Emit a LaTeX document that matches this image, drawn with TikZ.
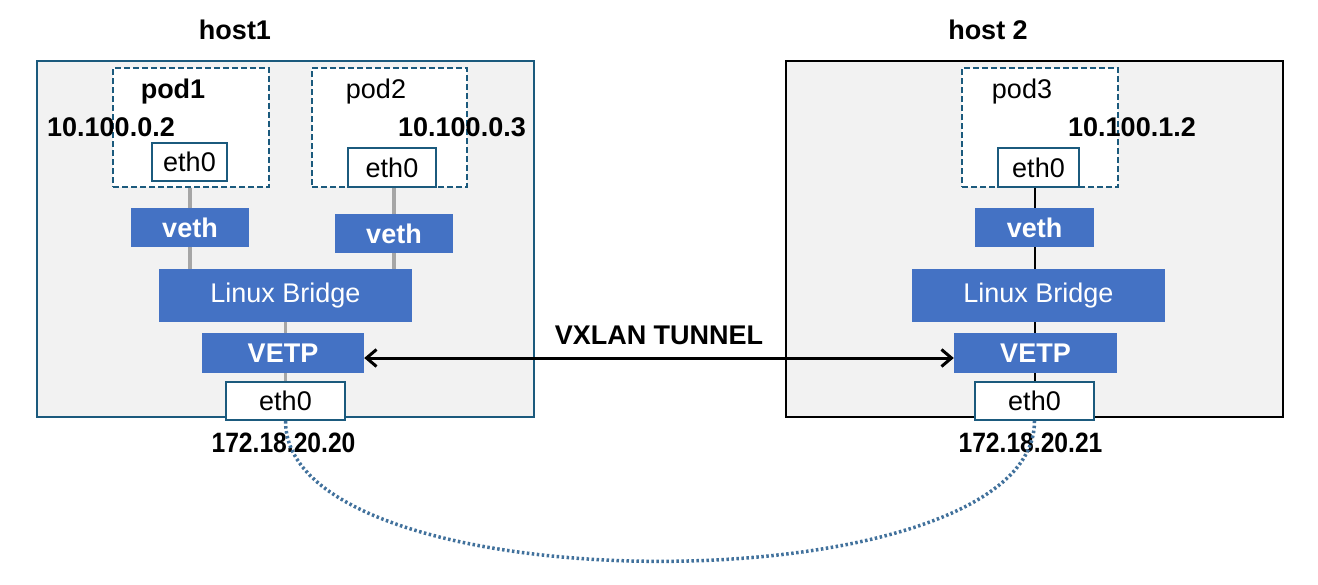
\documentclass[tikz,border=0pt]{standalone}
\usepackage{fontspec}
\setmainfont{Liberation Sans}
\usetikzlibrary{arrows.meta, positioning}
\definecolor{hostteal}{HTML}{1B5A7D}
\definecolor{hostgray}{HTML}{F2F2F2}
\definecolor{ifblue}{HTML}{4472C4}
\definecolor{linkgray}{HTML}{A6A6A6}
\definecolor{tunnelblue}{HTML}{41719C}

\begin{document}
\begin{tikzpicture}[
  x=1pt, y=-1pt,
  font=\fontsize{27}{30}\selectfont,
  >={Straight Barb[length=10pt,width=17pt]},
  % Host frames
  hostbox/.style={
    rectangle, draw, line width=2pt, fill=hostgray,
    minimum width=497pt, minimum height=356pt, inner sep=0pt
  },
  % Pod frames (dashed)
  podbox/.style={
    rectangle, draw=hostteal, line width=1.8pt, dash pattern=on 6pt off 3pt,
    fill=white, minimum width=156pt, minimum height=119pt, inner sep=0pt
  },
  % Interfaces
  ethbox/.style={
    rectangle, draw=hostteal, line width=2.2pt, fill=white,
    minimum height=38pt, inner sep=0pt
  },
  ifbox/.style={
    rectangle, fill=ifblue, text=white,
    minimum height=39pt, inner sep=0pt
  },
  boldif/.style={ifbox, font=\fontsize{27}{30}\selectfont\bfseries},
  % Labels
  boldlabel/.style={font=\fontsize{27}{30}\selectfont\bfseries, inner sep=0pt},
  plainlabel/.style={inner sep=0pt},
  iplabel/.style={font=\fontsize{28}{30}\selectfont\bfseries, inner sep=0pt},
  % Connectors
  graylink/.style={line width=3.5pt, color=linkgray},
  blacklink/.style={line width=2pt, color=black},
  tunnel/.style={<->, line width=3pt, color=black},
  underlay/.style={line width=3.5pt, color=tunnelblue, dash pattern=on 2.5pt off 2.5pt}
]
\useasboundingbox (0,0) rectangle (1318,584);

% === HOSTS ===
\node[hostbox, draw=hostteal] (host1) at (285.5,239) {};
\node[hostbox, draw=black] (host2) at (1034.5,239) {};
\node[boldlabel] (host1lbl) at (235,30) {host1};
\node[boldlabel] (host2lbl) at (988,30) {host 2};

% === PODS ===
\node[podbox] (pod1) at (191,127.5) {};
\node[podbox, minimum width=155pt] (pod2) at (389.5,127.5) {};
\node[podbox] (pod3) at (1040,127.5) {};
\node[boldlabel] (pod1lbl) at (173,92) {pod1};
\node[plainlabel] (pod2lbl) at (376,92) {pod2};
\node[plainlabel] (pod3lbl) at (1022,92) {pod3};
\node[boldlabel] (ip1) at (111,127) {10.100.0.2};
\node[boldlabel] (ip2) at (462,127) {10.100.0.3};
\node[boldlabel] (ip3) at (1132,127) {10.100.1.2};

\node[ethbox, minimum width=75pt] (pod1eth) at (189.5,162) {eth0};
\node[ethbox, minimum width=88pt, minimum height=39pt] (pod2eth) at (392,167.5) {eth0};
\node[ethbox, minimum width=81pt, minimum height=39pt] (pod3eth) at (1038.5,167.5) {eth0};

% === HOST 1 STACK ===
\node[boldif, minimum width=118pt] (veth1) at (190,227.5) {veth};
\node[boldif, minimum width=118pt] (veth2) at (394,233.5) {veth};
\node[ifbox, minimum width=253pt, minimum height=53pt] (bridge1) at (285.5,295.5) {Linux Bridge};
\node[boldif, minimum width=162pt, minimum height=40pt] (vetp1) at (283,353) {VETP};
\node[ethbox, minimum width=119pt] (eth1) at (285.5,401) {eth0};

% === HOST 2 STACK ===
\node[boldif, minimum width=119pt] (veth3) at (1034.5,227.5) {veth};
\node[ifbox, minimum width=253pt, minimum height=53pt] (bridge2) at (1038.5,295.5) {Linux Bridge};
\node[boldif, minimum width=163pt, minimum height=40pt] (vetp2) at (1035.5,353) {VETP};
\node[ethbox, minimum width=119pt] (eth2) at (1034.5,401) {eth0};

\node[iplabel, below=12pt of eth1, xshift=-2pt] (hostip1) {\scalebox{0.88}[1]{172.18.20.20}};
\node[iplabel, below=12pt of eth2, xshift=-4pt] (hostip2) {\scalebox{0.88}[1]{172.18.20.21}};

% === INTERNAL LINKS ===
\draw[graylink] (veth1.north) -- (veth1.north |- pod1.south);
\draw[graylink] (veth1.south) -- (veth1.south |- bridge1.north);
\draw[graylink] (veth2.north) -- (veth2.north |- pod2.south);
\draw[graylink] (veth2.south) -- (veth2.south |- bridge1.north);
\draw[graylink] (eth1.north |- bridge1.south) -- (eth1.north |- vetp1.north);
\draw[graylink] (eth1.north |- vetp1.south) -- (eth1.north);

\draw[blacklink] (veth3.north) -- (veth3.north |- pod3.south);
\draw[blacklink] (veth3.south) -- (veth3.south |- bridge2.north);
\draw[blacklink] (veth3.south |- bridge2.south) -- (veth3.south |- vetp2.north);
\draw[blacklink] (veth3.south |- vetp2.south) -- (eth2.north);

% === TUNNEL ===
\draw[tunnel] ([yshift=-5pt]vetp1.east) -- node[boldlabel, above=12pt] (vxlan) {VXLAN TUNNEL} ([yshift=-5pt]vetp2.west);
\draw[underlay] (eth1.south) .. controls +(0,187) and +(0,187) .. (eth2.south);

\end{tikzpicture}
\end{document}
